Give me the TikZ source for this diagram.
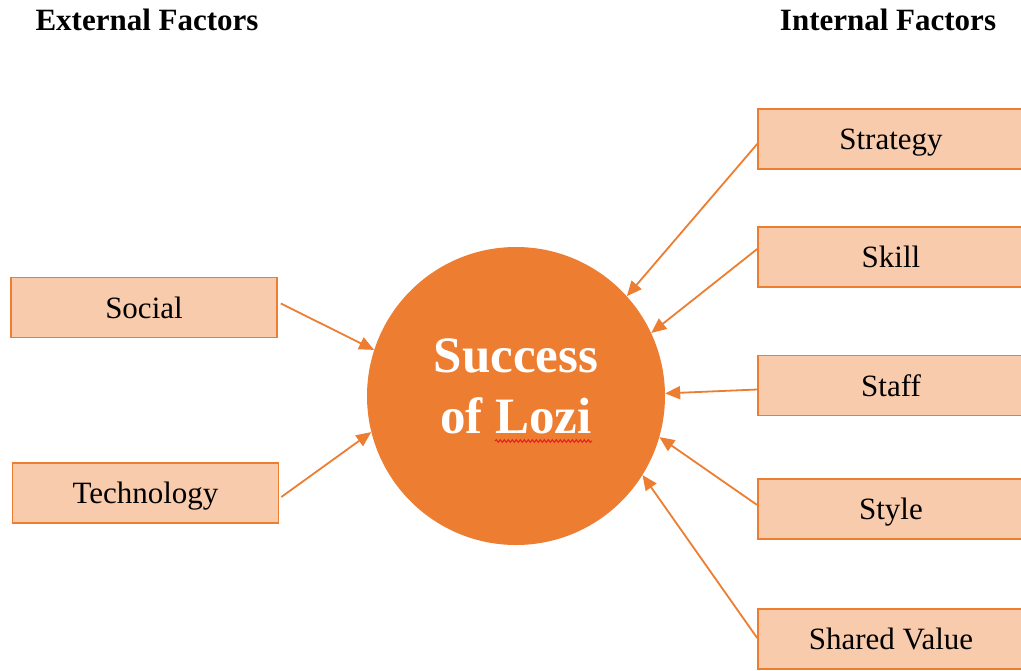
\documentclass[tikz,border=0pt]{standalone}
\usepackage{fontspec}
\setmainfont{Liberation Serif}
\usetikzlibrary{arrows.meta,decorations.pathmorphing}
\definecolor{accent}{HTML}{ED7D31}
\definecolor{peach}{HTML}{F8CBAD}
\definecolor{spell}{HTML}{E0201E}
\begin{document}
\begin{tikzpicture}[x=1pt,y=-1pt,
  factor/.style={draw=accent, fill=peach, line width=1.6pt,
    minimum width=266pt, minimum height=60pt, inner sep=0pt,
    text height=28pt, text depth=7pt,
    font=\fontsize{31}{37}\selectfont},
  header/.style={font=\bfseries\fontsize{31}{37}\selectfont, anchor=base, inner sep=0pt},
  hub/.style={circle, fill=accent, minimum size=298pt, inner sep=0pt},
  link/.style={draw=accent, line width=1.8pt, -{Triangle[length=15pt,width=13pt]}}]
\useasboundingbox (0,0) rectangle (1021,670);

% column headings
\node[header] (ext) at (147,30) {External Factors};
\node[header] (int) at (888,30) {Internal Factors};

% central circle
\node[hub] (core) at (516,396) {};
\node[text=white, align=center, inner sep=0pt,
      font=\bfseries\fontsize{51}{61}\selectfont] (title) at (516,386) {Success\\of Lozi};
\draw[spell, line width=1pt, decorate,
      decoration={snake, amplitude=1.3pt, segment length=4pt}] (495,441) -- (592,441);

% external factors
\node[factor] (social) at (144,307.5) {Social};
\node[factor] (tech)   at (145.5,493) {Technology};

% internal factors
\node[factor] (strategy) at (891,139)   {Strategy};
\node[factor] (skill)    at (891,257)   {Skill};
\node[factor] (staff)    at (891,385.5) {Staff};
\node[factor] (style)    at (891,509)   {Style};
\node[factor] (shared)   at (891,639)   {Shared Value};

% connectors
\draw[link] ([xshift=3pt,yshift=4pt]social.east) -- (core.162.3);
\draw[link] ([xshift=2pt,yshift=-4pt]tech.east) -- (core.194.4);
\draw[link] ([yshift=-5pt]strategy.west) -- (core.42.6);
\draw[link] ([yshift=8pt]skill.west) -- (core.25.7);
\draw[link] ([yshift=-4pt]staff.west) -- (core.1.5);
\draw[link] ([yshift=4pt]style.west) -- (core.-16.8);
\draw[link] ([yshift=1pt]shared.west) -- (core.-32.8);
\end{tikzpicture}
\end{document}
